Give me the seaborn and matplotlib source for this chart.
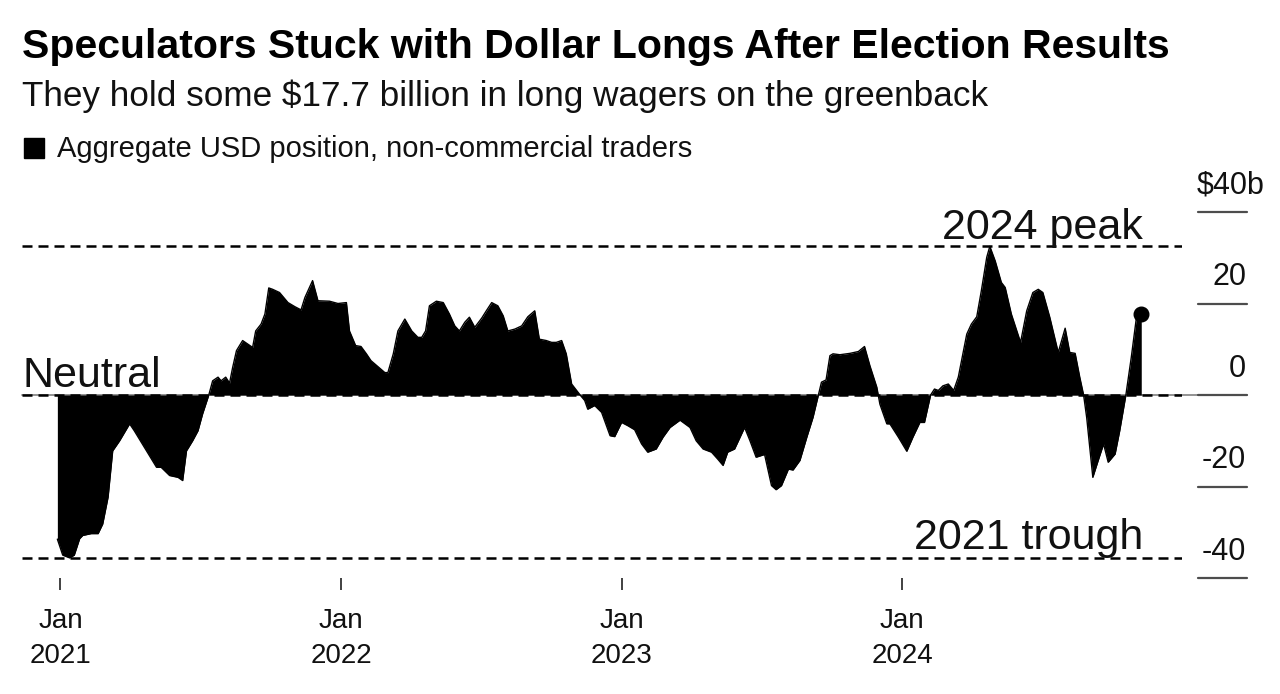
import pandas as pd
import numpy as np
import matplotlib.pyplot as plt
from matplotlib.patches import Rectangle
import seaborn as sns

# Aggregate USD position of non-commercial traders, $ billions
dates = [
    "2020-12-28", "2021-01-04", "2021-01-13", "2021-01-19", "2021-01-26", "2021-01-30", "2021-02-10",
    "2021-02-19", "2021-02-25", "2021-03-04", "2021-03-10", "2021-03-19", "2021-04-01", "2021-04-07",
    "2021-04-23", "2021-05-06", "2021-05-12", "2021-05-23", "2021-06-03", "2021-06-09", "2021-06-14",
    "2021-06-22", "2021-06-29", "2021-07-05", "2021-07-13", "2021-07-18", "2021-07-25", "2021-07-29",
    "2021-08-04", "2021-08-09", "2021-08-13", "2021-08-18", "2021-08-26", "2021-09-02", "2021-09-08",
    "2021-09-12", "2021-09-19", "2021-09-24", "2021-09-29", "2021-10-04", "2021-10-13", "2021-10-24",
    "2021-11-02", "2021-11-10", "2021-11-15", "2021-11-25", "2021-12-02", "2021-12-17", "2021-12-28",
    "2022-01-08", "2022-01-12", "2022-01-20", "2022-01-27", "2022-02-03", "2022-02-09", "2022-02-18",
    "2022-02-27", "2022-03-03", "2022-03-10", "2022-03-16", "2022-03-25", "2022-04-03", "2022-04-11",
    "2022-04-16", "2022-04-21", "2022-04-26", "2022-05-05", "2022-05-14", "2022-05-22", "2022-05-29",
    "2022-06-04", "2022-06-11", "2022-06-17", "2022-06-24", "2022-07-03", "2022-07-09", "2022-07-16",
    "2022-07-24", "2022-07-31", "2022-08-06", "2022-08-15", "2022-08-24", "2022-09-01", "2022-09-10",
    "2022-09-16", "2022-09-25", "2022-10-02", "2022-10-08", "2022-10-15", "2022-10-21", "2022-10-28",
    "2022-11-03", "2022-11-08", "2022-11-14", "2022-11-18", "2022-11-27", "2022-12-06", "2022-12-17",
    "2022-12-23",
    "2023-01-01", "2023-01-09", "2023-01-18", "2023-01-27", "2023-02-04", "2023-02-15", "2023-02-24",
    "2023-03-05", "2023-03-18", "2023-03-31", "2023-04-08", "2023-04-17", "2023-04-28", "2023-05-06",
    "2023-05-13", "2023-05-19", "2023-05-28", "2023-06-10", "2023-06-17", "2023-06-25", "2023-07-06",
    "2023-07-15", "2023-07-21", "2023-07-28", "2023-08-06", "2023-08-12", "2023-08-21", "2023-08-30",
    "2023-09-07", "2023-09-14", "2023-09-18", "2023-09-24", "2023-09-29", "2023-10-03", "2023-10-12",
    "2023-10-25", "2023-11-05", "2023-11-13", "2023-11-20", "2023-11-29", "2023-12-03", "2023-12-12",
    "2023-12-16", "2023-12-27",
    "2024-01-07", "2024-01-15", "2024-01-24", "2024-01-30", "2024-02-07", "2024-02-12", "2024-02-17",
    "2024-02-23", "2024-03-01", "2024-03-08", "2024-03-14", "2024-03-19", "2024-03-25", "2024-03-31",
    "2024-04-07", "2024-04-13", "2024-04-20", "2024-04-24", "2024-05-01", "2024-05-09", "2024-05-14",
    "2024-05-22", "2024-06-03", "2024-06-11", "2024-06-19", "2024-06-26", "2024-07-02", "2024-07-11",
    "2024-07-22", "2024-07-31", "2024-08-06", "2024-08-13", "2024-08-19", "2024-08-24", "2024-08-28",
    "2024-09-05", "2024-09-12", "2024-09-19", "2024-09-25", "2024-10-04", "2024-10-10", "2024-10-18",
    "2024-10-25", "2024-11-01", "2024-11-07",
]
usd_position = [
    -31.5, -35.0, -35.6, -35.0, -31.4, -30.7, -30.3, -30.3, -28.2, -22.3,
    -12.2, -10.0, -6.3, -7.8, -12.2, -15.8, -15.8, -17.6, -18.0, -18.7,
    -12.2, -10.0, -7.8, -4.1, 0.0, 3.1, 3.9, 3.1, 3.9, 2.6,
    6.0, 9.7, 11.9, 11.1, 10.4, 14.0, 15.5, 17.7, 23.4, 23.1,
    22.4, 20.2, 19.3, 18.6, 21.3, 25.0, 20.6, 20.5, 20.0, 20.2,
    14.0, 10.8, 10.6, 9.0, 7.5, 6.2, 4.9, 4.9, 9.0, 14.0,
    16.6, 14.0, 12.6, 12.6, 14.0, 19.5, 20.5, 20.2, 17.7, 15.1,
    14.0, 15.9, 17.0, 14.8, 16.8, 18.4, 20.2, 19.5, 17.3, 14.0,
    14.4, 15.1, 17.1, 18.4, 12.2, 11.9, 11.5, 11.5, 11.9, 9.0,
    2.4, 1.1, 0.0, -1.2, -3.1, -2.3, -3.8, -8.9, -9.1, -6.0,
    -6.7, -7.6, -10.7, -12.5, -11.8, -9.2, -7.1, -5.5, -7.1, -10.0,
    -11.8, -12.5, -14.0, -15.4, -12.5, -11.8, -7.1, -10.0, -13.6, -13.0,
    -19.8, -20.7, -19.8, -16.2, -16.4, -14.3, -9.2, -4.9, 0.0, 2.8,
    3.3, 8.6, 9.0, 8.8, 9.1, 9.5, 10.6, 6.4, 1.7, -2.0,
    -6.3, -6.3, -9.2, -12.3, -9.2, -6.0, -6.0, 0.0, 1.3, 1.0,
    2.0, 2.4, 1.0, 3.9, 8.2, 13.3, 15.5, 17.1, 22.8, 30.1,
    32.5, 29.3, 24.6, 23.5, 17.7, 11.5, 18.4, 22.4, 23.1, 22.4,
    17.0, 9.3, 14.6, 9.3, 9.1, 3.9, 0.0, -4.9, -18.0, -14.3,
    -10.7, -14.7, -12.9, -7.8, 0.0, 8.2, 17.3, 17.7,
]

peak_2024 = 32.5
trough_2021 = -35.6

y_ticks = [40, 20, 0, -20, -40]
y_tick_labels = ["$40b", "20", "0", "-20", "-40"]
x_tick_dates = ["2021-01-01", "2022-01-01", "2023-01-01", "2024-01-01"]
x_tick_labels = ["Jan\n2021", "Jan\n2022", "Jan\n2023", "Jan\n2024"]


def main():
    sns.set_style("white")
    plt.rcParams['font.family'] = ['Liberation Sans', 'DejaVu Sans']

    df = pd.DataFrame({'date': pd.to_datetime(dates), 'value': usd_position})

    W, H = 1280, 694
    fig = plt.figure(figsize=(W / 100, H / 100), dpi=100)
    ax = fig.add_axes([22 / W, (H - 578) / H, 1160 / W, 366 / H])

    # zero line (solid grey, runs out to the right-hand ticks)
    ax.plot([0, 1.056], [0, 0], transform=ax.get_yaxis_transform(), color='#8a8a8a',
            lw=1.3, clip_on=False, zorder=1)

    ax.fill_between(df['date'], 0, df['value'], color='black', lw=0, zorder=2)
    sns.lineplot(data=df, x='date', y='value', color='black', lw=1.0, ax=ax, zorder=3)
    ax.plot(df['date'].iloc[-1], df['value'].iloc[-1], 'o', color='black', ms=10.5, zorder=4)

    dash = (0, (4, 2.4))
    for level in [peak_2024, 0, trough_2021]:
        ax.axhline(level, color='black', lw=1.8, ls=dash, zorder=3)

    ax.set_ylim(-40, 40)
    ax.set_xlim(pd.Timestamp("2020-11-12"), pd.Timestamp("2024-12-30"))

    for s in ax.spines.values():
        s.set_visible(False)
    ax.set_xlabel('')
    ax.set_ylabel('')
    ax.set_yticks([])
    ax.set_xticks(pd.to_datetime(x_tick_dates))
    ax.set_xticklabels(x_tick_labels, fontsize=20, linespacing=1.45, color='#111111')
    ax.tick_params(axis='x', bottom=True, direction='out', length=8.5, width=1.3,
                   color='#333333', pad=13)

    # right-hand value axis: short rules with labels sitting above them
    ytr = ax.get_yaxis_transform()
    for v, lab in zip(y_ticks, y_tick_labels):
        ax.plot([1.0138, 1.056], [v, v], transform=ytr, color='#4d4d4d', lw=1.6,
                clip_on=False, zorder=1)
        if lab.endswith('b'):
            ax.annotate(lab, xy=(1.0129, v), xycoords=ytr, xytext=(0, 19),
                        textcoords='offset points', ha='left', va='center', fontsize=22,
                        color='#111111', annotation_clip=False)
        else:
            ax.annotate(lab, xy=(1.0552, v), xycoords=ytr, xytext=(0, 19),
                        textcoords='offset points', ha='right', va='center', fontsize=22,
                        color='#111111', annotation_clip=False)

    # line annotations
    ax.annotate("2024 peak", xy=(0.9664, peak_2024), xycoords=ytr, xytext=(0, 5),
                textcoords='offset points', ha='right', va='baseline', fontsize=31, color='#111111')
    ax.annotate("2021 trough", xy=(0.9664, trough_2021), xycoords=ytr, xytext=(0, 6.5),
                textcoords='offset points', ha='right', va='baseline', fontsize=31, color='#111111')
    ax.annotate("Neutral", xy=(0, 0), xycoords=ytr, xytext=(0, 6),
                textcoords='offset points', ha='left', va='baseline', fontsize=31, color='#111111')

    # headings and legend
    fig.text(22 / W, 1 - 58 / H, "Speculators Stuck with Dollar Longs After Election Results",
             fontsize=29.5, fontweight='bold', ha='left', va='baseline', color='black')
    fig.text(22 / W, 1 - 106 / H, "They hold some $17.7 billion in long wagers on the greenback",
             fontsize=25.3, ha='left', va='baseline', color='#111111')
    fig.patches.append(Rectangle((24 / W, 1 - 158 / H), 20 / W, 20 / H, color='black',
                                 transform=fig.transFigure))
    fig.text(57 / W, 1 - 157 / H, "Aggregate USD position, non-commercial traders",
             fontsize=21, ha='left', va='baseline', color='#111111')

    fig.savefig('out.png', dpi=100, facecolor='white')


if __name__ == "__main__":
    main()
